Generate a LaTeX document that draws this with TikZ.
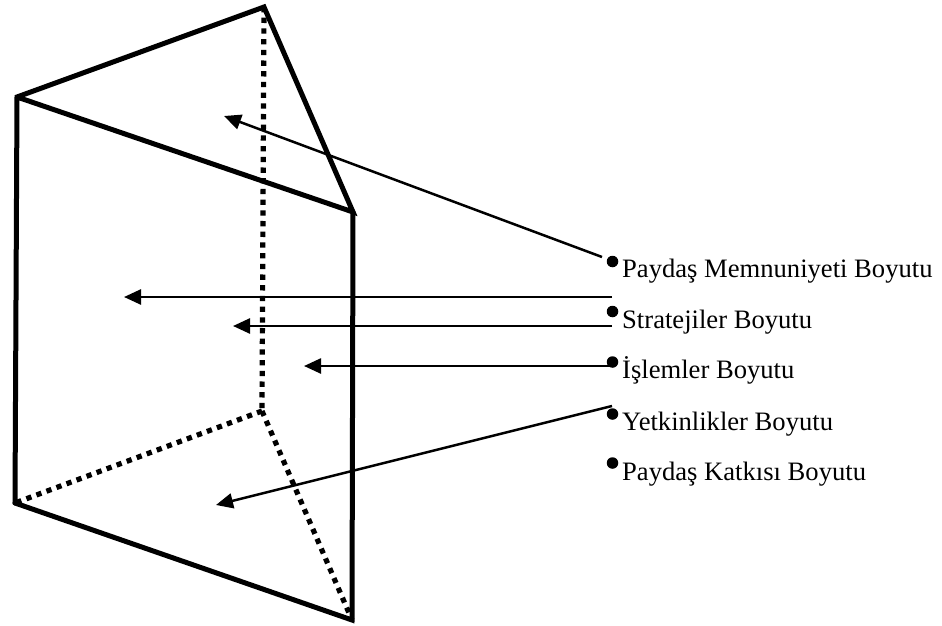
\documentclass[tikz,border=0pt]{standalone}
\usepackage{fontspec}
\setmainfont{Liberation Serif}
\usetikzlibrary{arrows.meta}
\tikzset{
  solidedge/.style={line width=5pt,line cap=round,line join=miter},
  hiddenedge/.style={line width=5.2pt,dash pattern=on 5.3pt off 5.4pt},
  pointer/.style={line width=2.5pt,-{Triangle[length=17pt,width=15pt]}},
  dotmark/.style={circle,fill=black,inner sep=0pt,minimum size=11.5pt},
  itemlabel/.style={anchor=base west,inner sep=0pt,font=\fontsize{26.6}{29}\selectfont}
}
\begin{document}
\begin{tikzpicture}[x=1pt,y=-1pt]
\useasboundingbox (0,0) rectangle (942,626);
\fill[white] (0,0) rectangle (942,626);
% prism corners
\coordinate (A) at (264,7);
\coordinate (B) at (17,97);
\coordinate (C) at (353,212);
\coordinate (D) at (15,503);
\coordinate (E) at (352,620);
\coordinate (F) at (262,411);
% hidden edges
\draw[hiddenedge] (A) -- (F);
\draw[hiddenedge] (F) -- (D);
\draw[hiddenedge] (F) -- (E);
% visible edges
\draw[solidedge] (D) -- (B) -- (A) -- (C) -- (B);
\draw[solidedge] (C) -- (E) -- (D);
% bullets
\node[dotmark] (b1) at (612.5,261.5) {};
\node[dotmark] (b2) at (612.5,311.5) {};
\node[dotmark] (b3) at (612.5,362) {};
\node[dotmark] (b4) at (612.5,414) {};
\node[dotmark] (b5) at (612.5,463) {};
% labels
\node[itemlabel] (l1) at (622,277) {Paydaş Memnuniyeti Boyutu};
\node[itemlabel] (l2) at (622,328) {Stratejiler Boyutu};
\node[itemlabel] (l3) at (622,378) {İşlemler Boyutu};
\node[itemlabel] (l4) at (622,430) {Yetkinlikler Boyutu};
\node[itemlabel] (l5) at (622,480) {Paydaş Katkısı Boyutu};
% arrow ends
\coordinate (s1) at (602,257);
\coordinate (t1) at (224,116);
\coordinate (s2) at (612,297);
\coordinate (t2) at (124,297);
\coordinate (s3) at (612,326);
\coordinate (t3) at (233,326);
\coordinate (s4) at (612,366);
\coordinate (t4) at (304,366);
\coordinate (s5) at (612,406);
\coordinate (t5) at (216,505);
\draw[pointer] (s1) -- (t1);
\draw[pointer] (s2) -- (t2);
\draw[pointer] (s3) -- (t3);
\draw[pointer] (s4) -- (t4);
\draw[pointer] (s5) -- (t5);
\end{tikzpicture}
\end{document}
